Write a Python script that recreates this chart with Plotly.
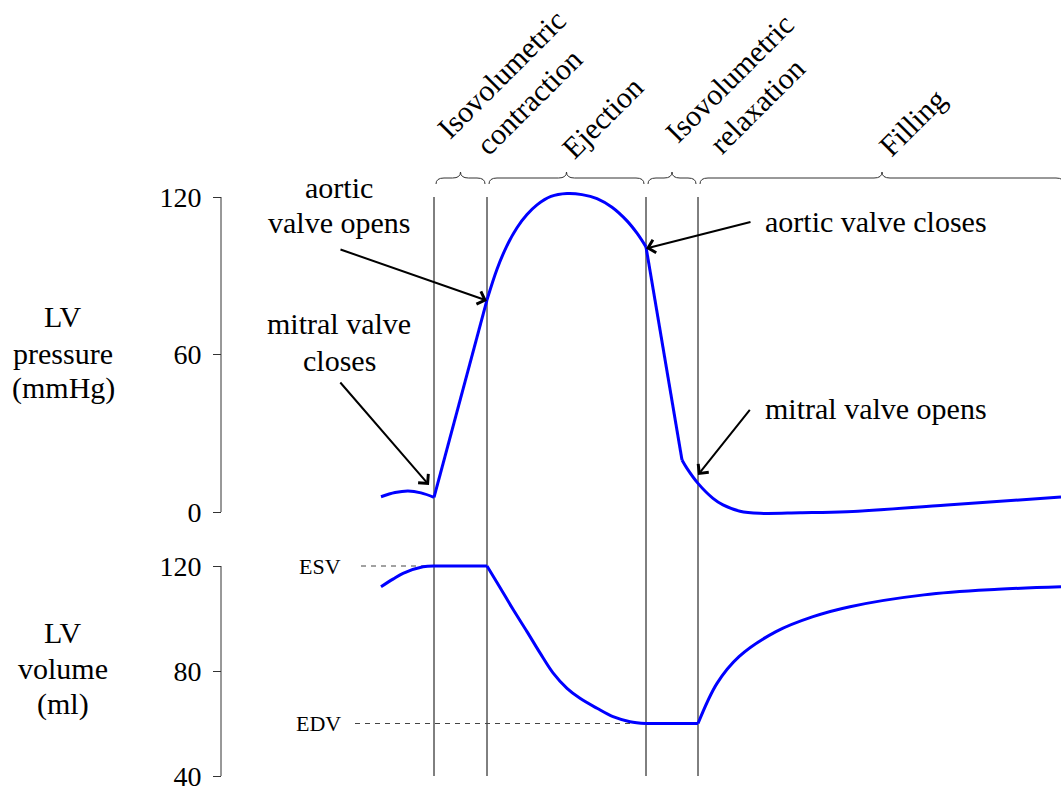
import plotly.graph_objects as go

W, H = 1061, 789
FONT = "Liberation Serif"

# ---------------- data ----------------
# phase boundaries along the (arbitrary-unit) time axis
phase_names = ["Isovolumetric<br>contraction", "Ejection",
               "Isovolumetric<br>relaxation", "Filling"]
phase_edges = [434, 487, 646, 698, 1066]

# LV pressure (mmHg), one list per segment of the cycle
t_p_atrial = [381, 395, 408, 421, 434]
p_atrial = [5.8, 7.4, 8.0, 7.3, 5.6]
t_p_ivc = [434, 487]
p_ivc = [5.6, 80.8]
t_p_eject = [487, 497, 507, 517, 527, 537, 551, 567, 582, 597, 612, 627, 637, 646]
p_eject = [80.8, 92.5, 101.5, 108.3, 113.3, 117.0, 120.2, 121.3, 120.9, 119.4,
           116.1, 110.9, 106.2, 101.0]
t_p_ivr = [646, 682]
p_ivr = [101.0, 19.8]
t_p_fill = [682, 687, 698, 713, 723, 740, 760, 800, 847, 947, 1061]
p_fill = [19.8, 16.6, 10.9, 5.2, 2.7, 0.3, -0.5, -0.3, 0.1, 2.7, 5.7]

# LV volume (ml)
t_v_atrial = [381, 393, 403, 423, 434]
v_atrial = [112.1, 115.0, 117.2, 119.7, 120.0]
t_v_ivc = [434, 487]
v_ivc = [120, 120]
t_v_eject = [487, 500, 513, 527, 540, 553, 567, 580, 597, 613, 630, 646]
v_eject = [120, 111.8, 103.5, 95.0, 86.9, 79.3, 73.4, 69.6, 65.8, 62.6, 60.7, 60.0]
t_v_ivr = [646, 698]
v_ivr = [60, 60]
t_v_fill = [698, 717, 739, 776, 813, 850, 924, 998, 1061]
v_fill = [60, 75.3, 85.5, 95.0, 100.7, 104.5, 109.0, 111.1, 112.1]

esv_value, edv_value = 120, 60
pressure_ticks = [0, 60, 120]
volume_ticks = [40, 80, 120]

# ---------------- layout geometry ----------------
P_RANGE = [-10, 130]
V_RANGE = [36, 126]
P_DOM = [1 - 538.25 / H, 1 - 170.75 / H]
V_DOM = [1 - 786.5 / H, 1 - 550.25 / H]
AXIS_X = 221


def to_paper(val, rng, dom):
    return dom[0] + (val - rng[0]) / (rng[1] - rng[0]) * (dom[1] - dom[0])


def py(pix):
    return 1 - pix / H


top_paper = to_paper(pressure_ticks[-1], P_RANGE, P_DOM)
bot_paper = to_paper(volume_ticks[0], V_RANGE, V_DOM)
px = 1.0 / H

fig = go.Figure()

BLUE = "#0000ff"
segments_p = [(t_p_atrial, p_atrial, "spline"), (t_p_ivc, p_ivc, "linear"),
              (t_p_eject, p_eject, "spline"), (t_p_ivr, p_ivr, "linear"),
              (t_p_fill, p_fill, "spline")]
segments_v = [(t_v_atrial, v_atrial, "spline"), (t_v_ivc, v_ivc, "linear"),
              (t_v_eject, v_eject, "spline"), (t_v_ivr, v_ivr, "linear"),
              (t_v_fill, v_fill, "spline")]

# dashed ESV / EDV reference lines
fig.add_trace(go.Scatter(x=[361, t_v_ivc[0]], y=[esv_value, esv_value], mode="lines",
                         line=dict(color="#444", width=1, dash="5px,5px"),
                         xaxis="x", yaxis="y2", hoverinfo="skip"))
fig.add_trace(go.Scatter(x=[355, t_v_ivr[0]], y=[edv_value, edv_value], mode="lines",
                         line=dict(color="#444", width=1, dash="5px,5px"),
                         xaxis="x", yaxis="y2", hoverinfo="skip"))

for t, p, shp in segments_p:
    fig.add_trace(go.Scatter(x=t, y=p, mode="lines", xaxis="x", yaxis="y",
                             line=dict(color=BLUE, width=3, shape=shp, smoothing=1.0)))
for t, v, shp in segments_v:
    fig.add_trace(go.Scatter(x=t, y=v, mode="lines", xaxis="x", yaxis="y2",
                             line=dict(color=BLUE, width=3, shape=shp, smoothing=1.0)))

shapes = []
# phase boundary lines
for e in phase_edges[:-1]:
    shapes.append(dict(type="line", xref="x", yref="paper", x0=e, x1=e,
                       y0=bot_paper, y1=top_paper, line=dict(color="black", width=1),
                       layer="below"))
# axis spines
shapes.append(dict(type="line", xref="x", yref="y", x0=AXIS_X, x1=AXIS_X,
                   y0=pressure_ticks[0], y1=pressure_ticks[-1], line=dict(color="#333", width=1)))
shapes.append(dict(type="line", xref="x", yref="y2", x0=AXIS_X, x1=AXIS_X,
                   y0=volume_ticks[0], y1=volume_ticks[-1], line=dict(color="#333", width=1)))


# curly braces over phases
def brace(xa, xb):
    yE = top_paper + 13 * px
    yL = top_paper + 19 * px
    yC = top_paper + 25 * px
    r = 8
    m = (xa + xb) / 2
    return (f"M{xa},{yE} Q{xa},{yL} {xa + r},{yL} L{m - r},{yL} Q{m},{yL} {m},{yC} "
            f"Q{m},{yL} {m + r},{yL} L{xb - r},{yL} Q{xb},{yL} {xb},{yE}")


for i in range(len(phase_names)):
    xa = phase_edges[i] + 2
    xb = phase_edges[i + 1] - 2
    shapes.append(dict(type="path", xref="x", yref="paper", path=brace(xa, xb),
                       line=dict(color="#333", width=1)))

annotations = []
label_centers = [(515, 88), (602, 117), (743, 92), (912, 122)]
for name, (cx, cy) in zip(phase_names, label_centers):
    annotations.append(dict(text=name, x=cx, y=py(cy), xref="x", yref="paper",
                            showarrow=False, textangle=-45, xanchor="center",
                            yanchor="middle", align="center",
                            font=dict(family=FONT, size=30, color="black")))

txt_font = dict(family=FONT, size=30, color="black")


def line_label(text, x, ypix, anchor="center"):
    return dict(text=text, x=x, y=py(ypix), xref="x", yref="paper", showarrow=False,
                xanchor=anchor, yanchor="middle", font=txt_font)


# axis titles (one annotation per line)
for txt, yp in [("LV", 316), ("pressure", 353), ("(mmHg)", 388),
                ("LV", 632), ("volume", 668), ("(ml)", 704)]:
    annotations.append(line_label(txt, 63, yp))

# ESV / EDV labels
for txt, val in [("ESV", esv_value), ("EDV", edv_value)]:
    annotations.append(dict(text=txt, x=343, y=val, xref="x", yref="y2", showarrow=False,
                            xanchor="right", yanchor="middle",
                            font=dict(family=FONT, size=22, color="black")))

# valve event labels
annotations += [
    line_label("aortic", 339, 187),
    line_label("valve opens", 339, 222.5),
    line_label("mitral valve", 339, 324),
    line_label("closes", 339, 360),
    line_label("aortic valve closes", 763, 222, "left"),
    line_label("mitral valve opens", 763, 408, "left"),
]

# arrows (head, tail)
arrows = [((487, 80.5), (339, 100.2)),
          ((429, 10.3), (339, 49.9)),
          ((646, 100.4), (752, 110.6)),
          ((698, 14.1), (751, 39.5))]
for (hx, hy), (tx, ty) in arrows:
    annotations.append(dict(text="", x=hx, y=hy, ax=tx, ay=ty, xref="x", yref="y",
                            axref="x", ayref="y", showarrow=True, arrowhead=4,
                            arrowsize=1.3, arrowwidth=2, arrowcolor="black", standoff=0))

tickfont = dict(family=FONT, size=28, color="black")
axis_common = dict(anchor="free", position=AXIS_X / W, ticks="outside", ticklen=8,
                   tickwidth=1, tickcolor="#333", showline=False, showgrid=False,
                   zeroline=False, tickfont=tickfont, ticklabeloverflow="allow",
                   ticklabelstandoff=6, automargin=False)
fig.update_layout(
    width=W, height=H, margin=dict(l=0, r=0, t=0, b=0, autoexpand=False),
    paper_bgcolor="white", plot_bgcolor="white", showlegend=False,
    xaxis=dict(range=[0, W], domain=[0, 1], visible=False, fixedrange=True),
    yaxis=dict(range=P_RANGE, domain=P_DOM, tickvals=pressure_ticks, **axis_common),
    yaxis2=dict(range=V_RANGE, domain=V_DOM, tickvals=volume_ticks, **axis_common),
    shapes=shapes, annotations=annotations,
)

fig.write_html("out.html")
